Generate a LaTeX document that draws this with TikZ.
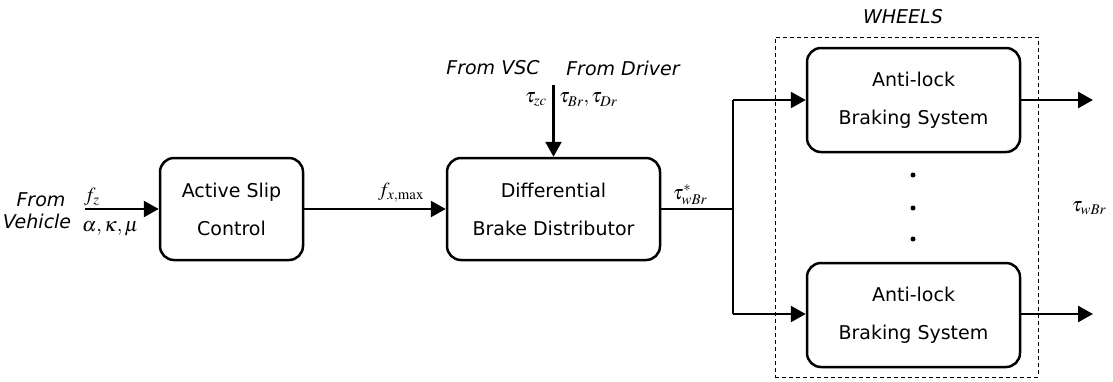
\documentclass[tikz,border=0pt]{standalone}
\usepackage{mathptmx}
\usepackage[no-math]{fontspec}
\setmainfont{DejaVu Sans}
\usetikzlibrary{arrows.meta}
\begin{document}
\begin{tikzpicture}[x=1pt,y=-1pt,
  block/.style={draw, line width=2.5pt, rounded corners=14pt, align=center,
    font=\fontsize{19}{38}\selectfont, inner sep=0pt, minimum height=102pt},
  arr/.style={line width=2.5pt, -{Triangle[length=15pt,width=16pt]}},
  ln/.style={line width=2pt},
  lbl/.style={font=\fontsize{19}{22}\selectfont\itshape, inner sep=0pt},
  mlbl/.style={font=\fontsize{20}{22}\selectfont, inner sep=0pt},
  dot/.style={circle, fill=black, inner sep=0pt, minimum size=5pt}]
\useasboundingbox (0,0) rectangle (1113,381);
% blocks
\node[block, minimum width=143pt] (asc) at (231.5,209) {Active Slip\\Control};
\node[block, minimum width=213pt] (dbd) at (553.5,209) {Differential\\Brake Distributor};
\node[block, minimum width=213pt, minimum height=104pt] (abs1) at (913.5,100) {Anti-lock\\Braking System};
\node[block, minimum width=213pt, minimum height=104pt] (abs2) at (913.5,315) {Anti-lock\\Braking System};
% wheels box
\node[draw, dashed, line width=1pt, dash pattern=on 4pt off 3pt, minimum width=263pt, minimum height=340pt, inner sep=0pt] (wbox) at (906.5,207) {};
\node[lbl] (wheels) at (903,17) {WHEELS};
% dots
\node[dot] (d1) at (913,175) {};
\node[dot] (d2) at (913,208) {};
\node[dot] (d3) at (913,239) {};
% coordinates
\coordinate (in) at (85,209);
\coordinate (top) at (553.5,85);
\coordinate (jm) at (733,209);
\coordinate (jt) at (733,100);
\coordinate (jb) at (733,314);
\coordinate (o1) at (1093,100);
\coordinate (o2) at (1093,314);
% connectors
\draw[arr] (in) -- (asc.west);
\draw[arr] (asc.east) -- (dbd.west);
\draw[arr] (top) -- (dbd.north);
\draw[ln] (dbd.east) -- (jm);
\draw[ln] (jt) -- (jb);
\draw[arr] (jt) -- (abs1.west);
\draw[arr] (jb) -- (abs2.west |- jb);
\draw[arr] (abs1.east) -- (o1);
\draw[arr] (abs2.east |- o2) -- (o2);
% labels
\node[lbl] (from1) at (41,200) {From};
\node[lbl] (from2) at (37,221) {Vehicle};
\node[mlbl, anchor=west] (fz) at (84,197) {$f_z$};
\node[mlbl, anchor=west] (akm) at (82,229) {$\alpha,\kappa,\mu$};
\node[mlbl, anchor=west] (fx) at (378,193) {$f_{x,\max}$};
\node[mlbl] (tw) at (690,195) {$\tau^{*}_{wBr}$};
\node[lbl] (vsc) at (493,68) {From VSC};
\node[lbl] (drv) at (623,68) {From Driver};
\node[mlbl, anchor=east] (tzc) at (547,100) {$\tau_{zc}$};
\node[mlbl, anchor=west] (tbr) at (559,100) {$\tau_{Br},\tau_{Dr}$};
\node[mlbl] (two) at (1089,208) {$\tau_{wBr}$};
\end{tikzpicture}
\end{document}
